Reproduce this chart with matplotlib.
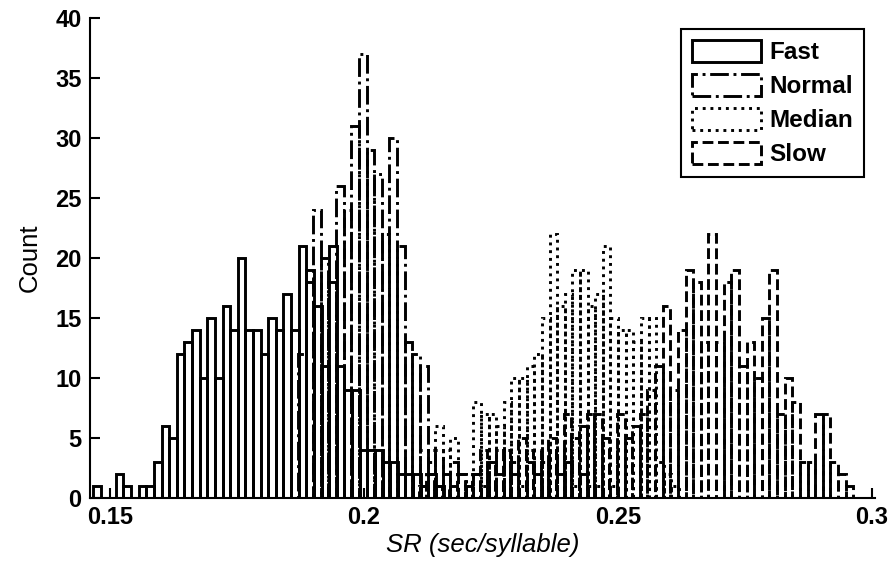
import numpy as np
import matplotlib
matplotlib.use("Agg")
from matplotlib import pyplot as plt

# histogram data: left edge of first bin and counts per bin (bin width 0.0015 s)
bin_width = 0.0015

fast_start = 0.14665
fast_counts = [1, 0, 0, 2, 1, 0, 1, 1, 3, 6, 5, 12, 13, 14, 10, 15, 10, 16, 14, 20,
               14, 14, 12, 15, 14, 17, 14, 21, 19, 16, 11, 21, 11, 9, 9, 4, 4, 4, 3, 3,
               2, 2, 2, 1, 2, 1]

normal_start = 0.18701
normal_counts = [12, 18, 24, 20, 18, 26, 24, 31, 37, 29, 27, 22, 30, 21, 13, 12, 11, 4, 4, 2,
                 3, 2, 1, 2, 1, 3, 4, 4, 2, 1, 3, 2, 4, 4, 2, 3, 1, 2, 1, 1, 0, 1]

median_start = 0.21102
median_counts = [4, 3, 6, 4, 5, 2, 1, 8, 7, 7, 6, 8, 10, 10, 11, 12, 15, 22, 16, 17,
                 19, 19, 16, 17, 21, 15, 14, 14, 13, 15, 15, 3, 2, 1]

slow_start = 0.2108
slow_counts = [1, 2, 1, 0, 1, 2, 1, 2, 4, 3, 2, 4, 3, 5, 4, 4, 3, 5, 4, 7,
               5, 6, 7, 7, 5, 4, 7, 5, 6, 7, 9, 11, 16, 9, 14, 19, 18, 13, 22, 13,
               18, 19, 11, 13, 10, 15, 19, 7, 10, 8, 3, 3, 7, 7, 3, 2, 1]

series = [
    ("Fast", fast_start, fast_counts, "-"),
    ("Normal", normal_start, normal_counts, "-."),
    ("Median", median_start, median_counts, ":"),
    ("Slow", slow_start, slow_counts, "--"),
]

plt.rcParams["font.family"] = ["Liberation Sans", "DejaVu Sans"]

fig = plt.figure(figsize=(8.96, 5.67), dpi=100)
ax = fig.add_axes([0.1004, 0.1217, 0.8762, 0.8466])

for name, start, counts, ls in series:
    lefts = start + bin_width * np.arange(len(counts))
    ax.bar(lefts, counts, width=bin_width, align="edge", fill=False,
           edgecolor="black", linestyle=ls, linewidth=2.1, label=name)

ax.set_xlim(0.14606, 0.30059)
ax.set_ylim(0, 40)
ax.set_xticks([0.15, 0.2, 0.25, 0.3])
ax.set_xticklabels(["0.15", "0.2", "0.25", "0.3"])
ax.set_yticks(np.arange(0, 41, 5))
ax.tick_params(direction="in", length=7, width=1.5, labelsize=17, pad=6)
for lab in ax.get_xticklabels() + ax.get_yticklabels():
    lab.set_fontweight("bold")

for side in ["top", "right"]:
    ax.spines[side].set_visible(False)
for side in ["left", "bottom"]:
    ax.spines[side].set_linewidth(1.5)

ax.set_xlabel("SR (sec/syllable)", fontsize=18.5, fontstyle="italic", labelpad=3)
ax.set_ylabel("Count", fontsize=18.5, labelpad=10)

leg = ax.legend(loc="upper right", fancybox=False, borderaxespad=0.45,
                edgecolor="black", framealpha=1, handlelength=2.85, handleheight=1.03,
                handletextpad=0.33, labelspacing=0.39, borderpad=0.45,
                prop={"size": 17.5, "weight": "bold"})
leg.get_frame().set_linewidth(1.5)

fig.savefig("out.png", dpi=100)
